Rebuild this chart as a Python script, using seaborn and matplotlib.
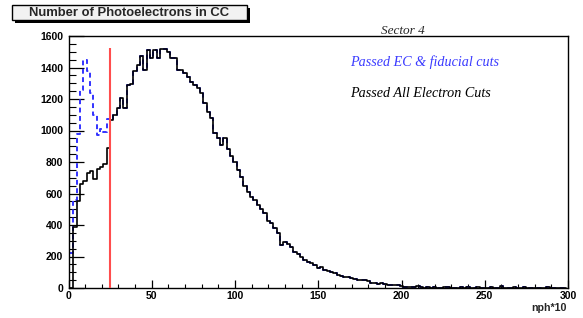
import numpy as np
import pandas as pd
import matplotlib
matplotlib.use("Agg")
import matplotlib.pyplot as plt
import seaborn as sns
from matplotlib.patches import Rectangle
from matplotlib.ticker import MultipleLocator

# ---------------- data (nph*10, bins of width 2 starting at 1) ----------------
bin_start = 1
bin_width = 2
black_low = [0, 390, 550, 660, 680, 730, 740, 690, 755, 770, 785, 890]
blue_low = [220, 560, 980, 1260, 1450, 1380, 1240, 1100, 970, 1010, 990, 1070]
black_mid = [1067, 1100, 1143, 1206, 1143, 1289, 1295, 1375, 1416, 1470,
             1384, 1510, 1458, 1510, 1458, 1520, 1515, 1500, 1458, 1458,
             1384, 1384, 1362, 1341,
             1310, 1290, 1268, 1236, 1173, 1120, 1077, 982, 950, 908,
             950, 880, 840, 800, 749, 707, 650, 612, 580, 559,
             527, 500, 474, 425, 410, 379, 347, 273, 294, 280,
             262, 230, 215, 199, 178, 167, 160, 146, 125, 135,
             114, 108, 103, 93, 82, 78, 72, 68, 62, 58,
             51, 51, 48, 45, 30, 30, 28, 30, 25, 19,
             19, 16, 19, 14, 8]
black_tail = [8, 6, 5, 10, 4, 3, 6, 2, 5, 3, 2, 4, 6, 2, 3, 1, 4, 2, 8, 3,
              2, 5, 1, 3, 2, 4, 1, 2, 12, 3, 1, 2, 4, 1, 3, 6, 2, 1, 3, 1,
              2, 0, 4, 1, 2, 3, 1, 2]
cut_value = 25
cut_top = 1525
x_ticks = [0, 50, 100, 150, 200, 250, 300]
y_ticks = [0, 200, 400, 600, 800, 1000, 1200, 1400, 1600]

black = black_low + black_mid + black_tail
blue = blue_low + black_mid + black_tail
edges = [float(bin_start + bin_width * i) for i in range(len(black) + 1)]
centers = [(edges[i] + edges[i + 1]) / 2 for i in range(len(black))]

df_all = pd.DataFrame({"x": centers, "w": black})
df_ec = pd.DataFrame({"x": centers, "w": blue})

# ---------------- figure ----------------
sns.set_style("white")
plt.rcParams["font.family"] = ["Liberation Sans", "DejaVu Sans"]
fig = plt.figure(figsize=(5.83, 3.18), dpi=100)
W, H = 583, 318
ax = fig.add_axes([68.5 / W, 1 - 288 / H, (568 - 68.5) / W, (288 - 36) / H])

sns.histplot(data=df_ec, x="x", weights="w", bins=edges,
             element="step", fill=False, color="#3333ff", linestyle=(0, (2.5, 1.8)),
             linewidth=1.4, ax=ax)
sns.histplot(data=df_all, x="x", weights="w", bins=edges,
             element="step", fill=False, color="black", linewidth=1.2, ax=ax)
ax.vlines(cut_value, 0, cut_top, color="#ff4d4d", linewidth=1.5, zorder=5)

ax.set_xlim(0, 300)
ax.set_ylim(0, 1600)
ax.set_xticks(x_ticks)
ax.set_yticks(y_ticks)
ax.xaxis.set_minor_locator(MultipleLocator(10))
ax.yaxis.set_minor_locator(MultipleLocator(50))
ax.set_xlabel("")
ax.set_ylabel("")
for s in ax.spines.values():
    s.set_color("black")
    s.set_linewidth(1.0)
ax.tick_params(axis="both", which="both", direction="in", colors="black",
               labelsize=7.5)
ax.tick_params(axis="y", which="major", length=10.5, width=0.9, left=True, pad=4)
ax.tick_params(axis="y", which="minor", length=5, width=0.8, left=True)
ax.tick_params(axis="x", which="major", length=5.5, width=0.9, bottom=True, pad=2)
ax.tick_params(axis="x", which="minor", length=3, width=0.8, bottom=True)
for lab in ax.get_xticklabels() + ax.get_yticklabels():
    lab.set_fontweight("bold")

# title box with shadow
bx0, by0, bx1, by1 = 12, 5, 247, 20
fig.add_artist(Rectangle((bx0 / W + 3 / W, 1 - by1 / H - 3 / H), (bx1 - bx0) / W, (by1 - by0) / H,
                         transform=fig.transFigure, facecolor="black", edgecolor="none"))
fig.add_artist(Rectangle((bx0 / W, 1 - by1 / H), (bx1 - bx0) / W, (by1 - by0) / H,
                         transform=fig.transFigure, facecolor="#f2f2f2", edgecolor="black",
                         linewidth=1.0))
fig.text((bx0 + bx1) / 2 / W, 1 - 12.5 / H, "Number of Photoelectrons in CC",
         ha="center", va="center", fontsize=9.4, fontweight="bold")

serif = ["Liberation Serif", "DejaVu Serif"]
fig.text(403 / W, 1 - 31 / H, "Sector 4", ha="center", va="center",
         fontsize=9.5, style="italic", family=serif)
fig.text(350 / W, 1 - 62 / H, "Passed EC & fiducial cuts", ha="left", va="center",
         fontsize=10.2, style="italic", family=serif, color="#3b3bff")
fig.text(350 / W, 1 - 93 / H, "Passed All Electron Cuts", ha="left", va="center",
         fontsize=10.2, style="italic", family=serif, color="black")
fig.text(567 / W, 1 - 308 / H, "nph*10", ha="right", va="center",
         fontsize=7.7, fontweight="bold")

fig.savefig("out.png", dpi=100)
